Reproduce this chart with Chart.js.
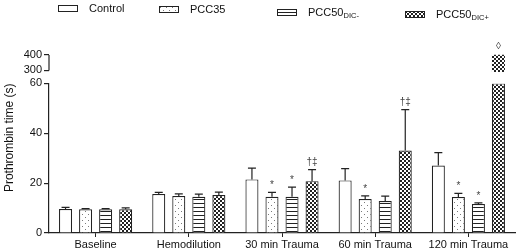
<!DOCTYPE html>
<html>
<head>
<meta charset="utf-8">
<script src="https://cdn.jsdelivr.net/npm/chart.js@4.4.1/dist/chart.umd.min.js"></script>
<style>
  html, body { margin: 0; padding: 0; background: #fff; }
  #wrap { position: relative; width: 520px; height: 252px; }
  #legend .item {
    position: absolute; display: flex; align-items: center; height: 12px;
    font: 11px "Liberation Sans", Arial, sans-serif; color: #111; white-space: nowrap;
  }
  #legend canvas { margin-right: 11px; }
  #legend sub { font-size: 7.5px; line-height: 0; vertical-align: -2px; }
  #legend .item:nth-child(1) { left: 58px; top: 2px; }
  #legend .item:nth-child(2) { left: 159px; top: 3px; }
  #legend .item:nth-child(3) { left: 277px; top: 6px; }
  #legend .item:nth-child(4) { left: 405px; top: 8px; }
</style>
</head>
<body>
<div id="wrap">
  <canvas id="ptChart" width="520" height="252"></canvas>
  <div id="legend"></div>
</div>
<script>
// data (mean and SD, seconds)
const categories = ['Baseline', 'Hemodilution', '30 min Trauma', '60 min Trauma', '120 min Trauma'];
const seriesNames = ['Control', 'PCC35', 'PCC50', 'PCC50'];
const seriesSubs = ['', '', 'DIC-', 'DIC+'];

const controlMean = [9.6, 15.6, 21.5, 21.1, 27.1];
const controlSd = [0.7, 0.7, 4.5, 4.7, 5.1];
const pcc35Mean = [9.5, 14.8, 14.5, 13.6, 14.4];
const pcc35Sd = [0.3, 0.9, 1.8, 1.3, 1.5];
const pcc50mMean = [9.5, 14.5, 14.5, 12.8, 11.6];
const pcc50mSd = [0.3, 1.1, 3.9, 2.0, 0.5];
const pcc50pMean = [9.5, 15.2, 20.8, 33.1, 402];
const pcc50pSd = [0.6, 1.2, 4.6, 16.4, 0];

const controlSig = ['', '', '', '', ''];
const pcc35Sig = ['', '', '*', '*', '*'];
const pcc50mSig = ['', '', '*', '', '*'];
const pcc50pSig = ['', '', '†‡', '†‡', '◊'];

const lowerTicks = [0, 20, 40, 60];
const upperTicks = [300, 400];

// axis break
const LOWER_MAX = 60;
const UPPER_MIN = 215;
const UPPER_MAX = 420;
const UPPER_FLOOR = 290;

const INK = '#222';

function makePattern(kind) {
    const c = document.createElement('canvas');
    const g = c.getContext('2d');
    if (kind === 'dots') {
        c.width = 6; c.height = 6;
        g.fillStyle = '#fff'; g.fillRect(0, 0, 6, 6);
        g.fillStyle = '#7a7a7a';
        g.fillRect(1, 1, 1, 1);
        g.fillRect(4, 4, 1, 1);
    } else if (kind === 'stripes') {
        c.width = 4; c.height = 4;
        g.fillStyle = '#fff'; g.fillRect(0, 0, 4, 4);
        g.fillStyle = INK; g.fillRect(0, 3, 4, 1);
    } else if (kind === 'checker') {
        c.width = 4; c.height = 4;
        g.fillStyle = '#fff'; g.fillRect(0, 0, 4, 4);
        g.fillStyle = INK;
        g.fillRect(0, 0, 2, 2);
        g.fillRect(2, 2, 2, 2);
    } else {
        c.width = 1; c.height = 1;
        g.fillStyle = '#fff'; g.fillRect(0, 0, 1, 1);
    }
    return g.createPattern(c, 'repeat');
}

const groups = [
    { mean: controlMean, sd: controlSd, sig: controlSig, fill: 'plain' },
    { mean: pcc35Mean, sd: pcc35Sd, sig: pcc35Sig, fill: 'dots' },
    { mean: pcc50mMean, sd: pcc50mSd, sig: pcc50mSig, fill: 'stripes' },
    { mean: pcc50pMean, sd: pcc50pSd, sig: pcc50pSig, fill: 'checker' }
];

// legend with subscripts
const legendEl = document.getElementById('legend');
groups.forEach((g, i) => {
    const item = document.createElement('div');
    item.className = 'item';
    const sw = document.createElement('canvas');
    sw.width = 20; sw.height = 7;
    const sctx = sw.getContext('2d');
    sctx.fillStyle = makePattern(g.fill);
    sctx.fillRect(0, 0, 20, 7);
    sctx.strokeStyle = INK;
    sctx.lineWidth = 1;
    sctx.strokeRect(0.5, 0.5, 19, 6);
    item.appendChild(sw);
    const txt = document.createElement('span');
    txt.textContent = seriesNames[i];
    if (seriesSubs[i]) {
        const sub = document.createElement('sub');
        sub.textContent = seriesSubs[i];
        txt.appendChild(sub);
    }
    item.appendChild(txt);
    legendEl.appendChild(item);
});

const datasets = groups.map((g, i) => ({
    label: seriesNames[i] + seriesSubs[i],
    data: g.mean.map(v => Math.min(v, LOWER_MAX)),
    yAxisID: 'y',
    stack: 's' + i,
    backgroundColor: makePattern(g.fill),
    borderColor: INK,
    borderWidth: 1.2
}));
// part of the bars above the axis break
datasets.push({
    label: 'above break',
    data: pcc50pMean.map(v => v > LOWER_MAX ? [UPPER_FLOOR, v] : null),
    yAxisID: 'yTop',
    stack: 's3',
    backgroundColor: makePattern('checker'),
    borderColor: INK,
    borderWidth: 0
});

const errorBars = {
    id: 'errorBars',
    afterDatasetsDraw(chart) {
        const ctx = chart.ctx;
        const y = chart.scales.y;
        const topMeta = chart.getDatasetMeta(4);
        ctx.save();
        ctx.strokeStyle = INK;
        ctx.lineWidth = 1.2;
        ctx.fillStyle = '#444';
        ctx.font = '10px "Liberation Sans", Arial, sans-serif';
        ctx.textAlign = 'center';
        ctx.textBaseline = 'bottom';
        groups.forEach((g, di) => {
            const meta = chart.getDatasetMeta(di);
            g.mean.forEach((m, i) => {
                const bar = meta.data[i];
                let markY;
                if (m > y.max) {
                    markY = topMeta.data[i].y - 4;
                } else {
                    const errY = y.getPixelForValue(m + g.sd[i]);
                    ctx.beginPath();
                    ctx.moveTo(bar.x, bar.y);
                    ctx.lineTo(bar.x, errY);
                    ctx.moveTo(bar.x - 4, errY);
                    ctx.lineTo(bar.x + 4, errY);
                    ctx.stroke();
                    markY = errY - 2;
                }
                if (g.sig[i]) ctx.fillText(g.sig[i], bar.x, markY);
            });
        });
        // axis line of the upper segment
        const yt = chart.scales.yTop;
        ctx.beginPath();
        ctx.moveTo(yt.right, yt.getPixelForValue(upperTicks[0]));
        ctx.lineTo(yt.right, yt.getPixelForValue(upperTicks[upperTicks.length - 1]));
        ctx.stroke();
        ctx.restore();
    }
};

const tickFont = { family: '"Liberation Sans", Arial, sans-serif', size: 11 };

new Chart(document.getElementById('ptChart').getContext('2d'), {
    type: 'bar',
    data: { labels: categories, datasets: datasets },
    options: {
        responsive: false,
        animation: false,
        datasets: { bar: { categoryPercentage: 0.86, barPercentage: 0.65 } },
        layout: { padding: { top: 52, right: 5, left: 0, bottom: 0 } },
        plugins: { legend: { display: false }, tooltip: { enabled: false } },
        scales: {
            x: {
                grid: { display: true, drawOnChartArea: false, offset: false, tickLength: 4, color: INK, lineWidth: 1 },
                border: { display: true, color: INK, width: 1.2 },
                ticks: { color: '#111', font: { ...tickFont, lineHeight: 1.0 }, padding: 2, maxRotation: 0, autoSkip: false }
            },
            y: {
                type: 'linear',
                position: 'left',
                stack: 'pt',
                stackWeight: 1,
                min: 0,
                max: LOWER_MAX,
                stacked: false,
                afterBuildTicks: s => { s.ticks = lowerTicks.map(v => ({ value: v })); },
                afterFit: s => { s.width = 49; },
                grid: { drawOnChartArea: false, tickLength: 5, color: INK, lineWidth: 1.2 },
                border: { display: true, color: INK, width: 1.2 },
                ticks: { color: '#111', font: tickFont, padding: 2 },
                title: {
                    display: true,
                    text: 'Prothrombin time (s)',
                    align: 'end',
                    color: '#111',
                    font: { family: '"Liberation Sans", Arial, sans-serif', size: 12 },
                    padding: { top: 2, bottom: 0 }
                }
            },
            yTop: {
                type: 'linear',
                position: 'left',
                stack: 'pt',
                stackWeight: 0.21,
                min: UPPER_MIN,
                max: UPPER_MAX,
                stacked: false,
                afterBuildTicks: s => { s.ticks = upperTicks.map(v => ({ value: v })); },
                afterFit: s => { s.width = 49; },
                grid: { drawOnChartArea: false, tickLength: 5, color: INK, lineWidth: 1.2 },
                border: { display: false },
                ticks: { color: '#111', font: tickFont, padding: 2 }
            }
        }
    },
    plugins: [errorBars]
});
</script>
</body>
</html>
